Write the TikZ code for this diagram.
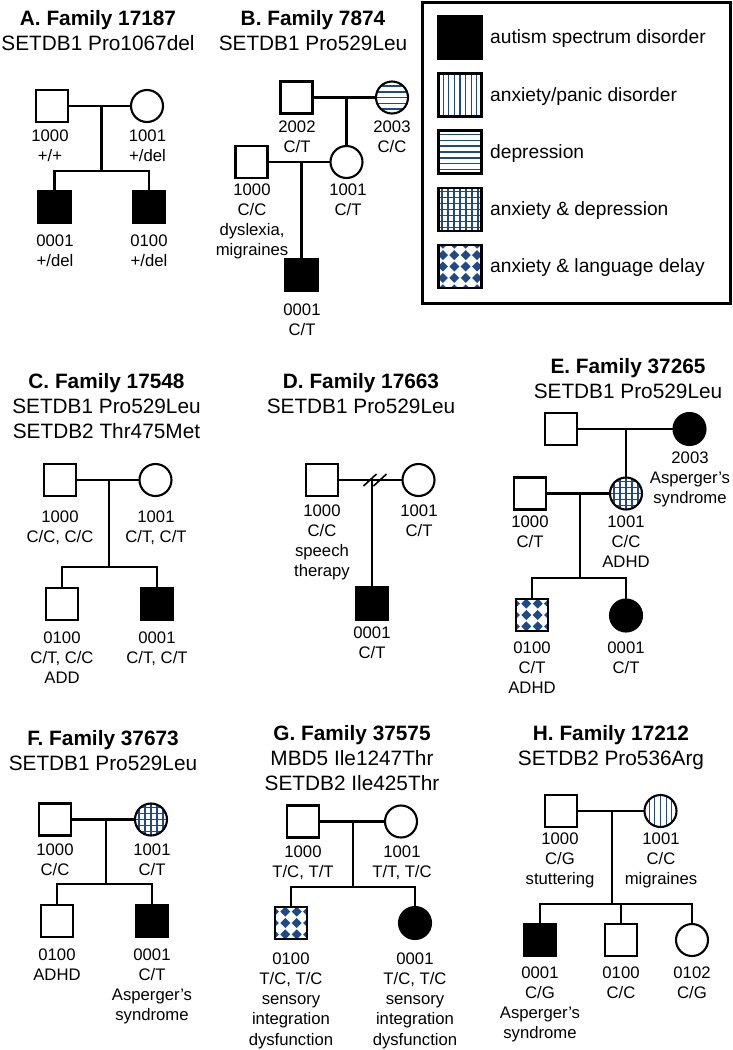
\documentclass[tikz,border=0pt]{standalone}
\usepackage{fontspec}
\setmainfont{Liberation Sans}
\definecolor{pblue}{RGB}{30,74,135}
\tikzset{
 ln/.style={line width=2.1pt},
 ind/.style={draw, line width=2.1pt, inner sep=0pt, outer sep=0pt},
 male/.style={ind, rectangle, minimum size=32pt},
 female/.style={ind, circle, minimum size=32pt},
 aff/.style={fill=black},
 vlines/.style={path picture={\foreach \k in {-5,...,5}{\draw[pblue,line width=1.1pt] ([xshift=\k*5.6pt]path picture bounding box.north) -- ([xshift=\k*5.6pt]path picture bounding box.south);}}},
 hlines/.style={path picture={\foreach \k in {-5,...,5}{\draw[pblue,line width=1.6pt] ([yshift=\k*5.8pt]path picture bounding box.west) -- ([yshift=\k*5.8pt]path picture bounding box.east);}}},
 grid/.style={path picture={\foreach \k in {-5,...,5}{\draw[pblue,line width=1.1pt] ([xshift=\k*6pt]path picture bounding box.north) -- ([xshift=\k*6pt]path picture bounding box.south); \draw[pblue,line width=1.1pt] ([yshift=\k*6pt]path picture bounding box.west) -- ([yshift=\k*6pt]path picture bounding box.east);}}},
 dmd/.style={path picture={\foreach \i in {-3,...,3}{\foreach \j in {-3,...,3}{\fill[pblue] ([shift={(\i*11.4pt+5.7pt,\j*11.4pt)}]path picture bounding box.center) +(-5pt,0pt) -- +(0pt,5pt) -- +(5pt,0pt) -- +(0pt,-5pt) -- cycle;}}}},
 ttl/.style={align=center, anchor=base, inner sep=0pt, font=\fontsize{20.8}{25.3}\selectfont},
 lbl/.style={align=center, anchor=base, inner sep=0pt, font=\fontsize{16.7}{20.3}\selectfont},
 leg/.style={anchor=base west, inner sep=0pt, font=\fontsize{19.2}{22}\selectfont},
}
\begin{document}
\begin{tikzpicture}[x=1pt,y=-1pt]
\useasboundingbox[fill=white] (0,0) rectangle (732,1050);
% ---------- Panel A
\node[ttl] (tA) at (98,50.3) {\textbf{A. Family 17187}\\SETDB1 Pro1067del};
\node[male] (A1000) at (52,106) {};
\node[female] (A1001) at (147,106) {};
\node[male,aff] (A0001) at (54.5,207) {};
\node[male,aff] (A0100) at (149,207) {};
\coordinate (Am) at (101.5,106);
\coordinate (As) at (101.5,171);
\draw[ln] (A1000) -- (A1001);
\draw[ln] (Am) -- (As);
\draw[ln] (A0001.north) -- (A0001.north |- As) -- (A0100.north |- As) -- (A0100.north);
\node[lbl] (lA1000) at (50,161.3) {1000\\+/+};
\node[lbl] (lA1001) at (147.5,161.3) {1001\\+/del};
\node[lbl] (lA0001) at (55,266.3) {0001\\+/del};
\node[lbl] (lA0100) at (149,266.3) {0100\\+/del};
% ---------- Panel B
\node[ttl] (tB) at (313,50.3) {\textbf{B. Family 7874}\\SETDB1 Pro529Leu};
\node[male] (B2002) at (296.5,97.5) {};
\node[female,hlines] (B2003) at (392,97.5) {};
\node[female] (B1001) at (346.5,162) {};
\node[male] (B1000) at (251.5,162) {};
\node[male,aff] (B0001) at (301.5,275) {};
\coordinate (Bm1) at (346.5,97.5);
\coordinate (Bm2) at (301.5,162);
\draw[ln] (B2002) -- (B2003);
\draw[ln] (Bm1) -- (B1001.north);
\draw[ln] (B1000) -- (B1001);
\draw[ln] (Bm2) -- (B0001.north);
\node[lbl] (lB2002) at (297,152.3) {2002\\C/T};
\node[lbl] (lB2003) at (392,152.3) {2003\\C/C};
\node[lbl] (lB1000) at (252,255.9) {1000\\C/C\\dyslexia,\\migraines};
\node[lbl] (lB1001) at (348,215.3) {1001\\C/T};
\node[lbl] (lB0001) at (302,335.3) {0001\\C/T};
% ---------- Legend
\node[draw, line width=3pt, inner sep=0pt, minimum width=308pt, minimum height=301pt] (legbox) at (576,152.5) {};
\node[male,aff,minimum size=43pt] (s1) at (460,37.5) {};
\node[male,vlines,minimum size=43pt] (s2) at (460,95) {};
\node[male,hlines,minimum size=43pt] (s3) at (460,152) {};
\node[male,grid,minimum size=43pt] (s4) at (460,209.5) {};
\node[male,dmd,minimum size=43pt] (s5) at (460,266.5) {};
\node[leg] (t1) at (490,43.5) {autism spectrum disorder};
\node[leg] (t2) at (490,101) {anxiety/panic disorder};
\node[leg] (t3) at (490,158) {depression};
\node[leg] (t4) at (490,215.5) {anxiety \& depression};
\node[leg] (t5) at (490,272.5) {anxiety \& language delay};
% ---------- Panel C
\node[ttl] (tC) at (106.5,438.6) {\textbf{C. Family 17548}\\SETDB1 Pro529Leu\\SETDB2 Thr475Met};
\node[male] (C1000) at (60,480) {};
\node[female] (C1001) at (155.5,480) {};
\node[male] (C0100) at (62,604) {};
\node[male,aff] (C0001) at (157,604) {};
\coordinate (Cm) at (109,480);
\coordinate (Cs) at (109,567);
\draw[ln] (C1000) -- (C1001);
\draw[ln] (Cm) -- (Cs);
\draw[ln] (C0100.north) -- (C0100.north |- Cs) -- (C0001.north |- Cs) -- (C0001.north);
\node[lbl] (lC1000) at (60,542.3) {1000\\C/C, C/C};
\node[lbl] (lC1001) at (156,542.3) {1001\\C/T, C/T};
\node[lbl] (lC0100) at (62,683.6) {0100\\C/T, C/C\\ADD};
\node[lbl] (lC0001) at (157,663.3) {0001\\C/T, C/T};
% ---------- Panel D
\node[ttl] (tD) at (361,413.3) {\textbf{D. Family 17663}\\SETDB1 Pro529Leu};
\node[male] (D1000) at (322,480) {};
\node[female] (D1001) at (418.5,480) {};
\node[male,aff] (D0001) at (372,603.5) {};
\coordinate (Dm) at (372,480);
\draw[ln] (D1000) -- (D1001);
\draw[ln] (Dm) -- (D0001.north);
\draw[line width=1.6pt] ([shift={(-8.5pt,-6pt)}]Dm) -- ([shift={(4.5pt,6pt)}]Dm);
\draw[line width=1.6pt] ([shift={(1.5pt,-6pt)}]Dm) -- ([shift={(14.5pt,6pt)}]Dm);
\node[lbl] (lD1000) at (322,576.9) {1000\\C/C\\speech\\therapy};
\node[lbl] (lD1001) at (419,536.3) {1001\\C/T};
\node[lbl] (lD0001) at (372,658.3) {0001\\C/T};
% ---------- Panel E
\node[ttl] (tE) at (628,398.3) {\textbf{E. Family 37265}\\SETDB1 Pro529Leu};
\node[male] (Egf) at (561,429) {};
\node[female,aff] (E2003) at (689.5,429) {};
\node[female,grid] (E1001) at (626,493.5) {};
\node[male] (E1000) at (530,493.5) {};
\node[male,dmd] (E0100) at (532,615) {};
\node[female,aff] (E0001) at (626,615.5) {};
\coordinate (Em1) at (626,429);
\coordinate (Em2) at (580,493.5);
\coordinate (Es) at (580,578);
\draw[ln] (Egf) -- (E2003);
\draw[ln] (Em1) -- (E1001.north);
\draw[ln] (E1000) -- (E1001);
\draw[ln] (Em2) -- (Es);
\draw[ln] (E0100.north) -- (E0100.north |- Es) -- (E0001.north |- Es) -- (E0001.north);
\node[lbl] (lE2003) at (690,503.6) {2003\\Asperger’s\\syndrome};
\node[lbl] (lE1000) at (530,547.3) {1000\\C/T};
\node[lbl] (lE1001) at (626,567.6) {1001\\C/C\\ADHD};
\node[lbl] (lE0100) at (532,693.6) {0100\\C/T\\ADHD};
\node[lbl] (lE0001) at (626,673.3) {0001\\C/T};
% ---------- Panel F
\node[ttl] (tF) at (103,770.3) {\textbf{F. Family 37673}\\SETDB1 Pro529Leu};
\node[male] (F1000) at (55,819.5) {};
\node[female,grid] (F1001) at (151,819.5) {};
\node[male] (F0100) at (57,921) {};
\node[male,aff] (F0001) at (152,921) {};
\coordinate (Fm) at (106,819.5);
\coordinate (Fs) at (106,884);
\draw[ln] (F1000) -- (F1001);
\draw[ln] (Fm) -- (Fs);
\draw[ln] (F0100.north) -- (F0100.north |- Fs) -- (F0001.north |- Fs) -- (F0001.north);
\node[lbl] (lF1000) at (55,875.3) {1000\\C/C};
\node[lbl] (lF1001) at (152,875.3) {1001\\C/T};
\node[lbl] (lF0100) at (57,980.3) {0100\\ADHD};
\node[lbl] (lF0001) at (152,1020.9) {0001\\C/T\\Asperger’s\\syndrome};
% ---------- Panel G
\node[ttl] (tG) at (352,790.6) {\textbf{G. Family 37575}\\MBD5 Ile1247Thr\\SETDB2 Ile425Thr};
\node[male] (G1000) at (303,821.5) {};
\node[female] (G1001) at (401,821.5) {};
\node[male,dmd] (G0100) at (291,923) {};
\node[female,aff] (G0001) at (415,923) {};
\coordinate (Gm) at (353,821.5);
\coordinate (Gs) at (353,887);
\draw[ln] (G1000) -- (G1001);
\draw[ln] (Gm) -- (Gs);
\draw[ln] (G0100.north) -- (G0100.north |- Gs) -- (G0001.north |- Gs) -- (G0001.north);
\node[lbl] (lG1000) at (303,877.3) {1000\\T/C, T/T};
\node[lbl] (lG1001) at (402,877.3) {1001\\T/T, T/C};
\node[lbl] (lG0100) at (291,1045.2) {0100\\T/C, T/C\\sensory\\integration\\dysfunction};
\node[lbl] (lG0001) at (415,1045.2) {0001\\T/C, T/C\\sensory\\integration\\dysfunction};
% ---------- Panel H
\node[ttl] (tH) at (611,765.3) {\textbf{H. Family 17212}\\SETDB2 Pro536Arg};
\node[male] (H1000) at (561,811) {};
\node[female,vlines] (H1001) at (660.5,811) {};
\node[male,aff] (H0001) at (540,940) {};
\node[male] (H0100) at (621,940) {};
\node[female] (H0102) at (692,940) {};
\coordinate (Hm) at (612,811);
\coordinate (Hs) at (612,904);
\draw[ln] (H1000) -- (H1001);
\draw[ln] (Hm) -- (Hs);
\draw[ln] (H0001.north) -- (H0001.north |- Hs) -- (H0102.north |- Hs) -- (H0102.north);
\draw[ln] (H0100.north |- Hs) -- (H0100.north);
\node[lbl] (lH1000) at (560,884.6) {1000\\C/G\\stuttering};
\node[lbl] (lH1001) at (661,884.6) {1001\\C/C\\migraines};
\node[lbl] (lH0001) at (540,1038.9) {0001\\C/G\\Asperger’s\\syndrome};
\node[lbl] (lH0100) at (621,998.3) {0100\\C/C};
\node[lbl] (lH0102) at (692,998.3) {0102\\C/G};
\end{tikzpicture}
\end{document}
